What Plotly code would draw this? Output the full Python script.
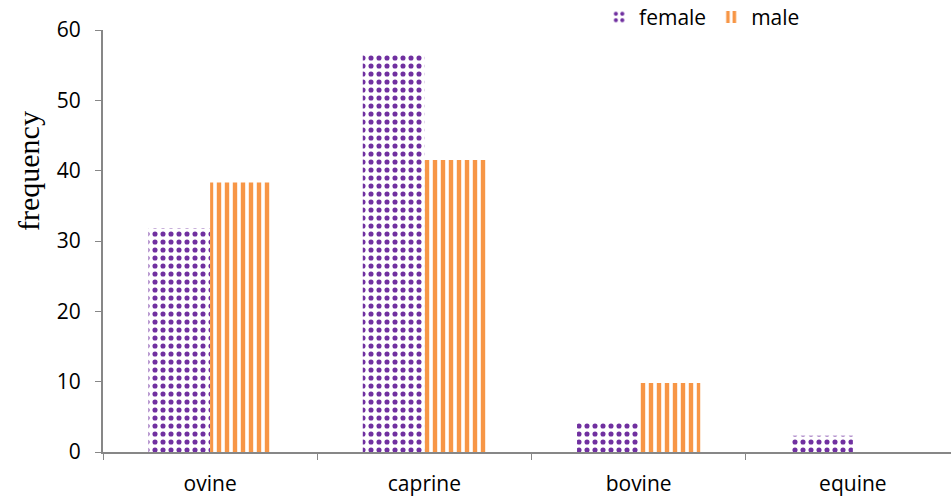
import plotly.graph_objects as go

categories = ["ovine", "caprine", "bovine", "equine"]
female = [31.8, 56.5, 4.2, 2.3]
male = [38.3, 41.5, 9.8, 0]
y_ticks = [0, 10, 20, 30, 40, 50, 60]

fig = go.Figure()
fig.add_trace(go.Bar(
    x=categories, y=female, name="female",
    marker=dict(color="white", line=dict(width=0),
                pattern=dict(shape=".", fgcolor="#7030A0", bgcolor="white",
                             fgopacity=1, size=8, solidity=0.32, fillmode="replace")),
))
fig.add_trace(go.Bar(
    x=categories, y=male, name="male",
    marker=dict(color="white", line=dict(width=0),
                pattern=dict(shape="|", fgcolor="#F79646", bgcolor="white",
                             fgopacity=1, size=8, solidity=0.55, fillmode="replace")),
))

fig.update_layout(
    width=951, height=496,
    margin=dict(l=103, r=0, t=30, b=44, autoexpand=False),
    paper_bgcolor="white", plot_bgcolor="white",
    barmode="group", bargap=0.425, bargroupgap=0,
    font=dict(family="Open Sans, Liberation Sans, sans-serif", size=21, color="#000"),
    legend=dict(orientation="h", x=0.585, y=1.03, xanchor="left", yanchor="middle",
                font=dict(size=21), bgcolor="rgba(0,0,0,0)",
                itemwidth=30, tracegroupgap=0),
    showlegend=True,
)
fig.update_xaxes(
    range=[-0.5, 3.458],
    showline=True, linecolor="#878787", linewidth=2,
    ticks="outside", tickson="boundaries", ticklen=6, tickcolor="#878787",
    showgrid=False, tickfont=dict(size=21), ticklabelstandoff=12,
)
fig.update_yaxes(
    range=[0, 60], tickvals=y_ticks,
    showline=True, linecolor="#878787", linewidth=2,
    ticks="outside", ticklen=6, tickcolor="#878787",
    showgrid=False, zeroline=False, tickfont=dict(size=21), ticklabelstandoff=10,
)
fig.add_annotation(
    text="frequency", textangle=-90, showarrow=False,
    xref="paper", x=-0.088, xanchor="center",
    yref="y", y=40, yanchor="middle",
    font=dict(family="Liberation Serif, Times New Roman, serif", size=30, color="#000"),
)

fig.write_html(
    "out.html",
    config={"displayModeBar": False},
    post_script="document.body.style.margin='0';document.body.style.overflow='hidden';",
)
